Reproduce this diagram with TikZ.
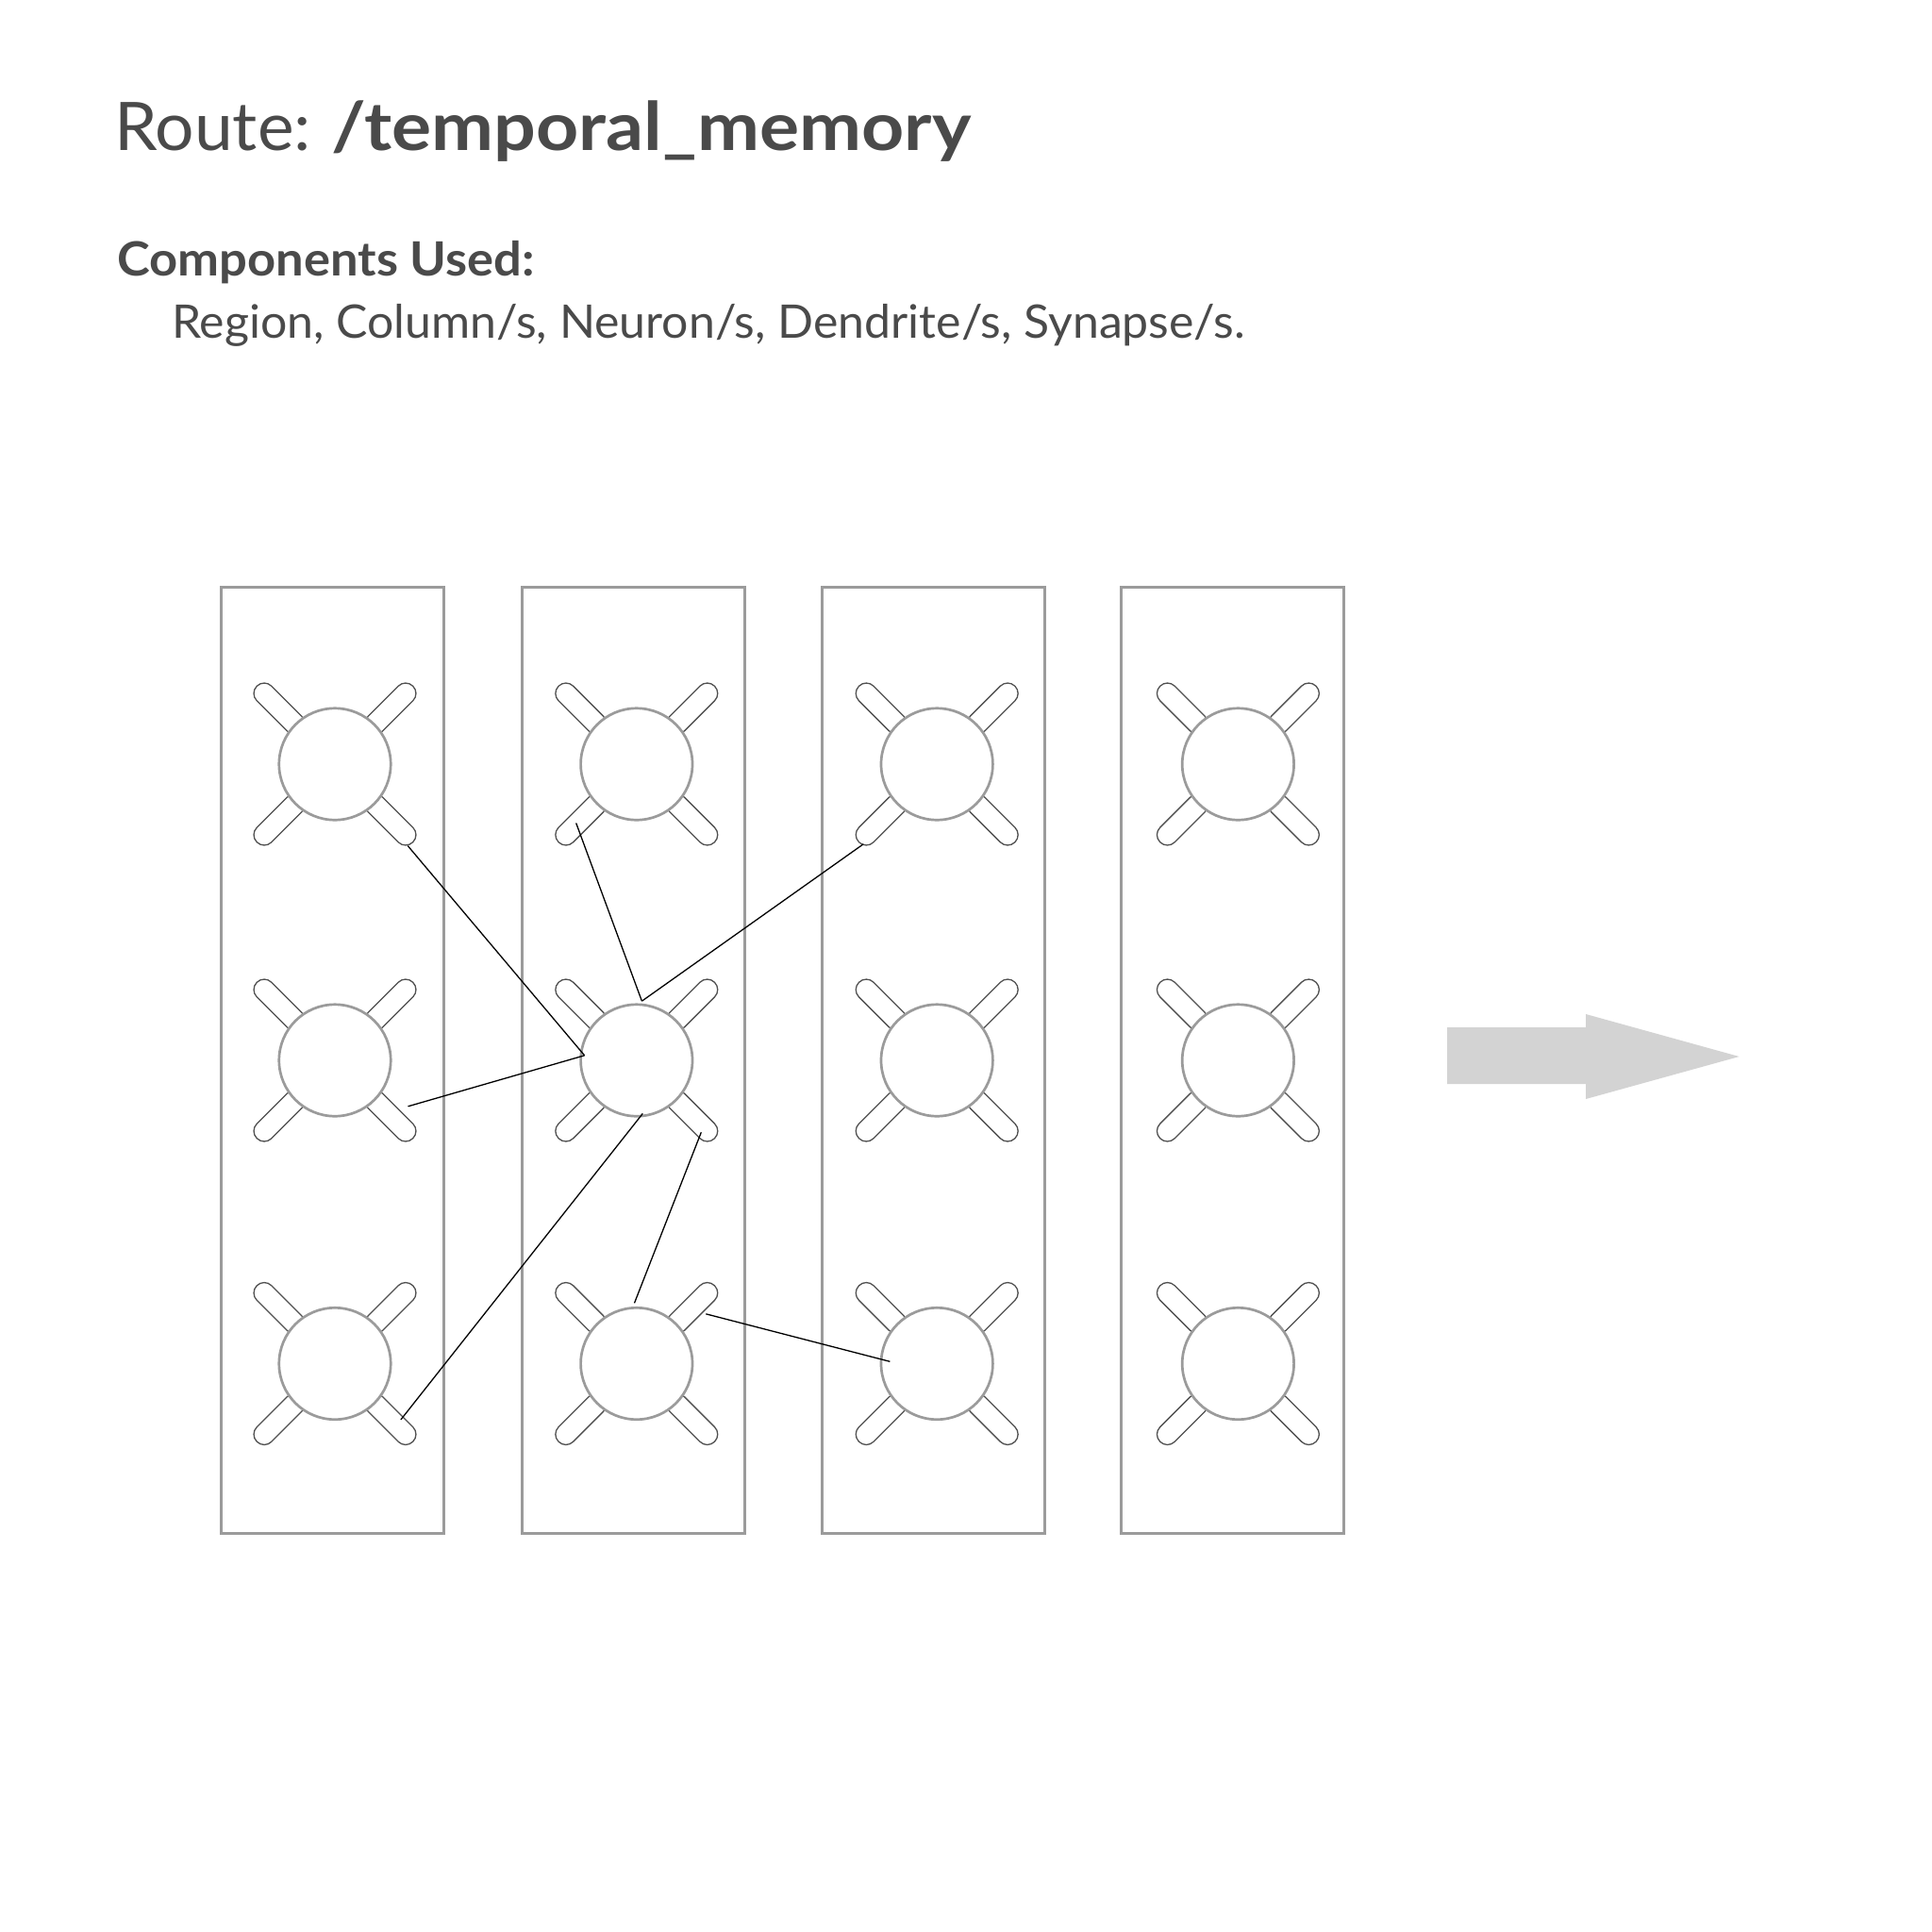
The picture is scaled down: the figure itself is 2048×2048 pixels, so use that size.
\documentclass[tikz,border=0pt]{standalone}
\usepackage{fontspec}
\usepackage{graphicx}
\setmainfont{Lato}
\newfontfamily\ftbold[FakeStretch=1.11]{Lato}
\newfontfamily\fthead[FakeStretch=1.05]{Lato}
\newfontfamily\ftlist[FakeStretch=1.02]{Lato}
\usetikzlibrary{calc}
\definecolor{txtgray}{HTML}{4A4A4A}
\definecolor{boxgray}{HTML}{9B9B9B}
\definecolor{dendgray}{HTML}{505050}
\definecolor{arrowgray}{HTML}{D3D3D3}
\begin{document}
\begin{tikzpicture}[x=1pt,y=-1pt,
  colbox/.style={draw=boxgray, line width=3pt, minimum width=236pt, minimum height=1003pt, inner sep=0pt},
  neuron/.style={circle, draw=boxgray, line width=2.7pt, fill=white, minimum size=118.4pt, inner sep=0pt},
  dend/.style={draw=dendgray, line width=1.3pt, fill=white, rounded corners=10.9pt, minimum width=67pt, minimum height=22pt, inner sep=0pt},
  syn/.style={draw=black, line width=1.3pt},
  label/.style={text=txtgray, anchor=base west, inner sep=0pt}]
\fill[white] (0,0) rectangle (2048,2048);
\useasboundingbox (0,0) rectangle (2048,2048);

% texts
\node[label, font=\fontsize{71}{85}\selectfont] (title) at (121,159.3) {\scalebox{1.03}[1]{Route:}};
\node[label, font=\fontsize{71}{85}\selectfont\ftbold\bfseries] (route) at (351,159.3) {/temporal\_memory};
\node[label, font=\fontsize{50}{60}\selectfont\fthead\bfseries] (comp) at (124,292.7) {Components Used:};
\node[label, font=\fontsize{49}{59}\selectfont\ftlist] (list) at (182,358.3) {Region, Column/s, Neuron/s, Dendrite/s, Synapse/s.};

% columns
\node[colbox] (col1) at (352,1123.5) {};
\node[colbox] (col2) at (671,1123.5) {};
\node[colbox] (col3) at (989,1123.5) {};
\node[colbox] (col4) at (1306.5,1123.5) {};

% dendrites
\foreach \c/\x in {1/355,2/674.8,3/993.2,4/1312.4}{
  \foreach \r/\y in {1/810,2/1124,3/1445.5}{
    \node[dend, rotate=-45] (d\c\r-tl) at (\x-59,\y-59) {};
    \node[dend, rotate=-45] (d\c\r-br) at (\x+59,\y+59) {};
    \node[dend, rotate=45] (d\c\r-tr) at (\x+59,\y-59) {};
    \node[dend, rotate=45] (d\c\r-bl) at (\x-59,\y+59) {};
  }
}
% neurons
\foreach \c/\x in {1/355,2/674.8,3/993.2,4/1312.4}{
  \foreach \r/\y in {1/810,2/1124,3/1445.5}{
    \node[neuron] (n\c\r) at (\x,\y) {};
  }
}

% synapse end points
\coordinate (s1) at ($(n11)+(77.3,86.6)$);
\coordinate (t22) at ($(n22)+(-55.2,-5.2)$);
\coordinate (s2) at ($(n12)+(77.5,48.8)$);
\coordinate (s3) at ($(n21)+(-64.1,62.5)$);
\coordinate (h22) at ($(n22)+(5.6,-62.8)$);
\coordinate (s4) at ($(n31)+(-77.9,84.7)$);
\coordinate (b22) at ($(n22)+(6.5,56.4)$);
\coordinate (s5) at ($(n13)+(69.9,59.4)$);
\coordinate (r22) at ($(n22)+(68.5,76.3)$);
\coordinate (h23) at ($(n23)+(-2.3,-64.2)$);
\coordinate (r23) at ($(n23)+(73.5,-52.7)$);
\coordinate (l33) at ($(n33)+(-49.8,-2.2)$);

\draw[syn] (s1) -- (t22);
\draw[syn] (s2) -- (t22);
\draw[syn] (s3) -- (h22);
\draw[syn] (h22) -- (s4);
\draw[syn] (b22) -- (s5);
\draw[syn] (r22) -- (h23);
\draw[syn] (r23) -- (l33);

% flow arrow
\fill[arrowgray] (1534,1089) -- (1681,1089) -- (1681,1075) -- (1843.6,1120) -- (1681,1165) -- (1681,1149) -- (1534,1149) -- cycle;
\end{tikzpicture}
\end{document}
